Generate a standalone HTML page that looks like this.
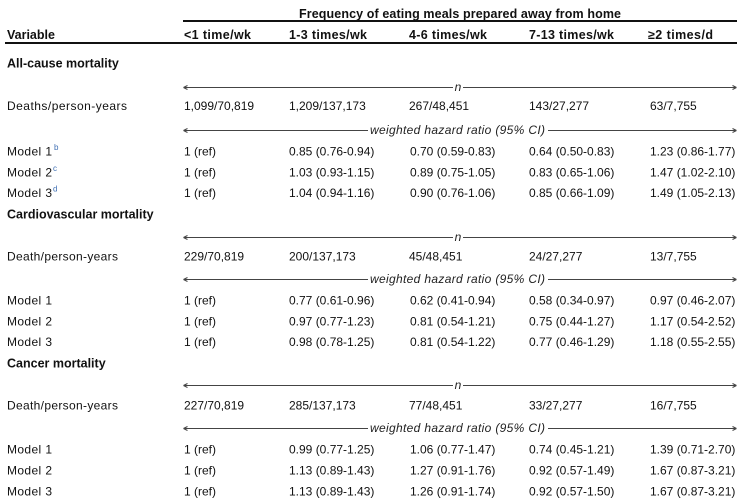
<!DOCTYPE html>
<html>
<head>
<meta charset="utf-8">
<style>
  html,body{margin:0;padding:0;background:#fff;}
  svg{display:block;}
  text{font-family:"Liberation Sans",Arial,sans-serif;fill:#111;}
  .b{font-weight:bold;font-size:12.5px;}
  .r{font-size:12px;}
  .i{font-style:italic;font-size:12px;fill:#222;}
  .s{font-size:8px;fill:#3f6fb3;}
  .ln{stroke:#444;stroke-width:1;fill:none;}
</style>
</head>
<body>
<svg width="745" height="503" viewBox="0 0 745 503" xmlns="http://www.w3.org/2000/svg">
  <!-- Header -->
  <text class="b" x="460" y="18" text-anchor="middle" textLength="322" lengthAdjust="spacing">Frequency of eating meals prepared away from home</text>
  <rect x="183" y="20" width="554" height="2" fill="#111"/>
  <text class="b" x="7" y="39">Variable</text>
  <text class="b" x="184" y="39" textLength="67" lengthAdjust="spacing">&lt;1 time/wk</text>
  <text class="b" x="289" y="39" textLength="78" lengthAdjust="spacing">1-3 times/wk</text>
  <text class="b" x="409" y="39" textLength="78" lengthAdjust="spacing">4-6 times/wk</text>
  <text class="b" x="529" y="39" textLength="85" lengthAdjust="spacing">7-13 times/wk</text>
  <text class="b" x="648" y="39" textLength="65" lengthAdjust="spacing">≥2 times/d</text>
  <rect x="5" y="42" width="732" height="2" fill="#111"/>

  <!-- ===== Section 1 ===== -->
  <text class="b" x="7" y="67.5">All-cause mortality</text>
  <path class="ln" d="M183.5 87.5 H453 M463 87.5 H736.5 M183.5 87.5 l4 -2 M183.5 87.5 l4 2 M736.5 87.5 l-4 -2 M736.5 87.5 l-4 2"/>
  <text class="i" x="458" y="91" text-anchor="middle">n</text>
  <text class="r" x="7" y="110" textLength="120" lengthAdjust="spacing">Deaths/person-years</text>
  <text class="r" x="184" y="110">1,099/70,819</text>
  <text class="r" x="289" y="110">1,209/137,173</text>
  <text class="r" x="409" y="110">267/48,451</text>
  <text class="r" x="529" y="110">143/27,277</text>
  <text class="r" x="650" y="110">63/7,755</text>
  <path class="ln" d="M183.5 130.5 H368 M548 130.5 H736.5 M183.5 130.5 l4 -2 M183.5 130.5 l4 2 M736.5 130.5 l-4 -2 M736.5 130.5 l-4 2"/>
  <text class="i" x="370" y="134" textLength="175" lengthAdjust="spacing">weighted hazard ratio (95% CI)</text>

  <text class="r" x="7" y="155.5" textLength="45" lengthAdjust="spacing">Model 1</text><text class="s" x="54" y="150">b</text>
  <text class="r" x="184" y="155.5">1 (ref)</text>
  <text class="r" x="289" y="155.5">0.85 (0.76-0.94)</text>
  <text class="r" x="410" y="155.5">0.70 (0.59-0.83)</text>
  <text class="r" x="529" y="155.5">0.64 (0.50-0.83)</text>
  <text class="r" x="650" y="155.5">1.23 (0.86-1.77)</text>

  <text class="r" x="7" y="176.5" textLength="45" lengthAdjust="spacing">Model 2</text><text class="s" x="53" y="171">c</text>
  <text class="r" x="184" y="176.5">1 (ref)</text>
  <text class="r" x="289" y="176.5">1.03 (0.93-1.15)</text>
  <text class="r" x="410" y="176.5">0.89 (0.75-1.05)</text>
  <text class="r" x="529" y="176.5">0.83 (0.65-1.06)</text>
  <text class="r" x="650" y="176.5">1.47 (1.02-2.10)</text>

  <text class="r" x="7" y="197" textLength="45" lengthAdjust="spacing">Model 3</text><text class="s" x="53" y="191.5">d</text>
  <text class="r" x="184" y="197">1 (ref)</text>
  <text class="r" x="289" y="197">1.04 (0.94-1.16)</text>
  <text class="r" x="410" y="197">0.90 (0.76-1.06)</text>
  <text class="r" x="529" y="197">0.85 (0.66-1.09)</text>
  <text class="r" x="650" y="197">1.49 (1.05-2.13)</text>

  <!-- ===== Section 2 ===== -->
  <text class="b" x="7" y="218.5">Cardiovascular mortality</text>
  <path class="ln" d="M183.5 237.5 H453 M463 237.5 H736.5 M183.5 237.5 l4 -2 M183.5 237.5 l4 2 M736.5 237.5 l-4 -2 M736.5 237.5 l-4 2"/>
  <text class="i" x="458" y="241" text-anchor="middle">n</text>
  <text class="r" x="7" y="260.5" textLength="111" lengthAdjust="spacing">Death/person-years</text>
  <text class="r" x="184" y="260.5">229/70,819</text>
  <text class="r" x="289" y="260.5">200/137,173</text>
  <text class="r" x="409" y="260.5">45/48,451</text>
  <text class="r" x="529" y="260.5">24/27,277</text>
  <text class="r" x="650" y="260.5">13/7,755</text>
  <path class="ln" d="M183.5 279.5 H368 M548 279.5 H736.5 M183.5 279.5 l4 -2 M183.5 279.5 l4 2 M736.5 279.5 l-4 -2 M736.5 279.5 l-4 2"/>
  <text class="i" x="370" y="283" textLength="175" lengthAdjust="spacing">weighted hazard ratio (95% CI)</text>

  <text class="r" x="7" y="304.5" textLength="45" lengthAdjust="spacing">Model 1</text>
  <text class="r" x="184" y="304.5">1 (ref)</text>
  <text class="r" x="289" y="304.5">0.77 (0.61-0.96)</text>
  <text class="r" x="410" y="304.5">0.62 (0.41-0.94)</text>
  <text class="r" x="529" y="304.5">0.58 (0.34-0.97)</text>
  <text class="r" x="650" y="304.5">0.97 (0.46-2.07)</text>

  <text class="r" x="7" y="325.5" textLength="45" lengthAdjust="spacing">Model 2</text>
  <text class="r" x="184" y="325.5">1 (ref)</text>
  <text class="r" x="289" y="325.5">0.97 (0.77-1.23)</text>
  <text class="r" x="410" y="325.5">0.81 (0.54-1.21)</text>
  <text class="r" x="529" y="325.5">0.75 (0.44-1.27)</text>
  <text class="r" x="650" y="325.5">1.17 (0.54-2.52)</text>

  <text class="r" x="7" y="346" textLength="45" lengthAdjust="spacing">Model 3</text>
  <text class="r" x="184" y="346">1 (ref)</text>
  <text class="r" x="289" y="346">0.98 (0.78-1.25)</text>
  <text class="r" x="410" y="346">0.81 (0.54-1.22)</text>
  <text class="r" x="529" y="346">0.77 (0.46-1.29)</text>
  <text class="r" x="650" y="346">1.18 (0.55-2.55)</text>

  <!-- ===== Section 3 ===== -->
  <text class="b" x="7" y="367.5">Cancer mortality</text>
  <path class="ln" d="M183.5 385.5 H453 M463 385.5 H736.5 M183.5 385.5 l4 -2 M183.5 385.5 l4 2 M736.5 385.5 l-4 -2 M736.5 385.5 l-4 2"/>
  <text class="i" x="458" y="389" text-anchor="middle">n</text>
  <text class="r" x="7" y="409.5" textLength="111" lengthAdjust="spacing">Death/person-years</text>
  <text class="r" x="184" y="409.5">227/70,819</text>
  <text class="r" x="289" y="409.5">285/137,173</text>
  <text class="r" x="409" y="409.5">77/48,451</text>
  <text class="r" x="529" y="409.5">33/27,277</text>
  <text class="r" x="650" y="409.5">16/7,755</text>
  <path class="ln" d="M183.5 428.5 H368 M548 428.5 H736.5 M183.5 428.5 l4 -2 M183.5 428.5 l4 2 M736.5 428.5 l-4 -2 M736.5 428.5 l-4 2"/>
  <text class="i" x="370" y="432" textLength="175" lengthAdjust="spacing">weighted hazard ratio (95% CI)</text>

  <text class="r" x="7" y="453.5" textLength="45" lengthAdjust="spacing">Model 1</text>
  <text class="r" x="184" y="453.5">1 (ref)</text>
  <text class="r" x="289" y="453.5">0.99 (0.77-1.25)</text>
  <text class="r" x="410" y="453.5">1.06 (0.77-1.47)</text>
  <text class="r" x="529" y="453.5">0.74 (0.45-1.21)</text>
  <text class="r" x="650" y="453.5">1.39 (0.71-2.70)</text>

  <text class="r" x="7" y="474.5" textLength="45" lengthAdjust="spacing">Model 2</text>
  <text class="r" x="184" y="474.5">1 (ref)</text>
  <text class="r" x="289" y="474.5">1.13 (0.89-1.43)</text>
  <text class="r" x="410" y="474.5">1.27 (0.91-1.76)</text>
  <text class="r" x="529" y="474.5">0.92 (0.57-1.49)</text>
  <text class="r" x="650" y="474.5">1.67 (0.87-3.21)</text>

  <text class="r" x="7" y="495.5" textLength="45" lengthAdjust="spacing">Model 3</text>
  <text class="r" x="184" y="495.5">1 (ref)</text>
  <text class="r" x="289" y="495.5">1.13 (0.89-1.43)</text>
  <text class="r" x="410" y="495.5">1.26 (0.91-1.74)</text>
  <text class="r" x="529" y="495.5">0.92 (0.57-1.50)</text>
  <text class="r" x="650" y="495.5">1.67 (0.87-3.21)</text>
</svg>
</body>
</html>
